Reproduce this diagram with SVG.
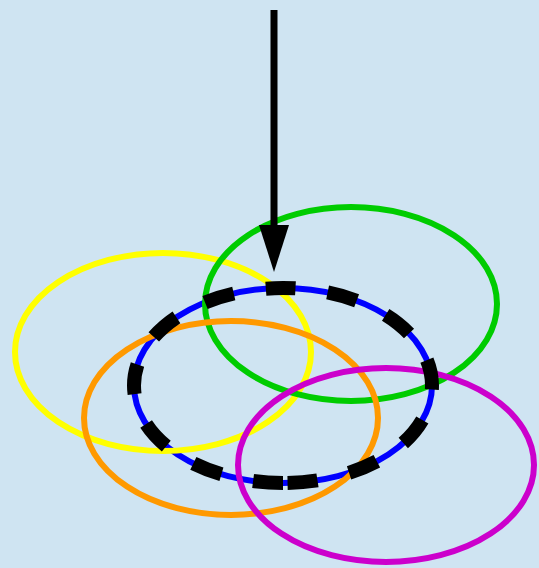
<svg xmlns="http://www.w3.org/2000/svg" width="539" height="568" viewBox="0 0 539 568">
<style>
.e{fill:none;stroke-width:6}
.d{fill:none;stroke:#000;stroke-width:14;stroke-dasharray:30 32.3}
</style>
<defs>
<marker id="ah" markerWidth="47" markerHeight="30" refX="1" refY="15" orient="auto" markerUnits="userSpaceOnUse" viewBox="0 0 47 30">
<path d="M0,0 L47,15 L0,30 Z" fill="#000"/>
</marker>
</defs>
<rect width="539" height="568" fill="#cfe4f2"/>
<g id="blue"><ellipse class="e" cx="283" cy="385.5" rx="149" ry="97.5" stroke="#0000ff"/></g>
<g id="yellow"><ellipse class="e" cx="163" cy="352" rx="148" ry="99" stroke="#ffff00"/></g>
<g id="green"><ellipse class="e" cx="351" cy="304" rx="146" ry="97" stroke="#00cc00"/></g>
<g id="orange"><ellipse class="e" cx="231" cy="418" rx="147" ry="97" stroke="#ff9900"/></g>
<g id="magenta"><ellipse class="e" cx="386" cy="465" rx="148" ry="97" stroke="#cc00cc"/></g>
<g id="dashed"><path class="d" d="M283,483 A149,97.5 0 0 1 283,288 A149,97.5 0 0 1 283,483"/></g>
<g id="connectors"><line x1="274" y1="10" x2="274" y2="226" stroke="#000" stroke-width="7" marker-end="url(#ah)"/></g>
</svg>
